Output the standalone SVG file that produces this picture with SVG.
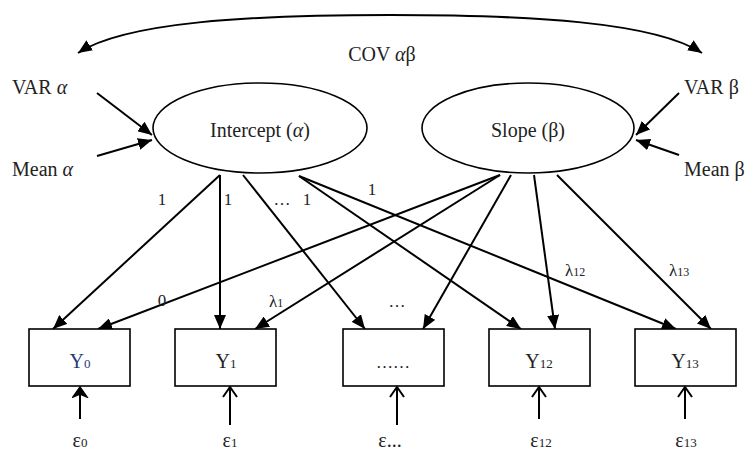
<svg xmlns="http://www.w3.org/2000/svg" width="748" height="450" viewBox="0 0 748 450">
<style>
text{font-family:"Liberation Serif","Times New Roman",serif;fill:#222}
.big{font-size:20px}
.lbl{font-size:17px}
.sub{font-size:13px}
.ssub{font-size:12px}
.it{font-style:italic}
.ln{stroke:#000;stroke-width:2;fill:none}
.shape{stroke:#000;stroke-width:1.6;fill:#fff}
</style>
<defs>
<marker id="ah" markerUnits="userSpaceOnUse" markerWidth="15" markerHeight="12" refX="14" refY="6" orient="auto-start-reverse">
<path d="M0,0 L14,6 L0,12 z" fill="#000"/>
</marker>
<marker id="va" markerUnits="userSpaceOnUse" markerWidth="14" markerHeight="18" refX="11" refY="8" orient="auto">
<path d="M1,1 L11,8 L1,15" fill="none" stroke="#000" stroke-width="2"/>
</marker>
<marker id="vf" markerUnits="userSpaceOnUse" markerWidth="14" markerHeight="18" refX="11" refY="8" orient="auto">
<path d="M1,1 L11,8 L1,15 L4,8 z" fill="#000" stroke="#000" stroke-width="1.5"/>
</marker>
</defs>

<g id="connectors">
<path class="ln" d="M78 53 C125 22, 250 15, 390 15 C530 15, 655 22, 702 53" marker-start="url(#ah)" marker-end="url(#ah)"/>
<path class="ln" d="M97 93 L152 135" marker-end="url(#ah)"/>
<path class="ln" d="M97 156 L152 140" marker-end="url(#ah)"/>
<path class="ln" d="M679 93 L636 135" marker-end="url(#ah)"/>
<path class="ln" d="M679 155 L636 140" marker-end="url(#ah)"/>
<path class="ln" d="M220 175 L53 329" marker-end="url(#ah)"/>
<path class="ln" d="M220 175 L220 329" marker-end="url(#ah)"/>
<path class="ln" d="M243 175 L365 329" marker-end="url(#ah)"/>
<path class="ln" d="M299 176 L521 329" marker-end="url(#ah)"/>
<path class="ln" d="M299 176 L676 329" marker-end="url(#ah)"/>
<path class="ln" d="M500 175 L98 329" marker-end="url(#ah)"/>
<path class="ln" d="M500 175 L255 329" marker-end="url(#ah)"/>
<path class="ln" d="M511 175 L423 329" marker-end="url(#ah)"/>
<path class="ln" d="M534 175 L555 329" marker-end="url(#ah)"/>
<path class="ln" d="M557 175 L711 329" marker-end="url(#ah)"/>
<path class="ln" d="M80 419 L80 387" marker-end="url(#vf)"/>
<path class="ln" d="M230 425 L230 387" marker-end="url(#va)"/>
<path class="ln" d="M397 425 L397 387" marker-end="url(#va)"/>
<path class="ln" d="M539 419 L539 387" marker-end="url(#va)"/>
<path class="ln" d="M685 419 L685 387" marker-end="url(#va)"/>
<text class="big" x="382" y="61" text-anchor="middle">COV <tspan class="it">α</tspan>β</text>
<text class="lbl" x="162" y="205" text-anchor="middle">1</text>
<text class="lbl" x="228" y="205" text-anchor="middle">1</text>
<text class="lbl" x="282" y="205" text-anchor="middle">…</text>
<text class="lbl" x="307" y="205" text-anchor="middle">1</text>
<text class="lbl" x="372" y="195" text-anchor="middle">1</text>
<text class="lbl" x="162" y="306" text-anchor="middle">0</text>
<text class="lbl" x="269" y="307">λ<tspan class="ssub">1</tspan></text>
<text class="lbl" x="397" y="307" text-anchor="middle">…</text>
<text class="lbl" x="565" y="276">λ<tspan class="ssub">12</tspan></text>
<text class="lbl" x="669" y="276">λ<tspan class="ssub">13</tspan></text>
</g>

<g id="var-alpha"><text class="big" x="12" y="94">VAR <tspan class="it">α</tspan></text></g>
<g id="mean-alpha"><text class="big" x="12" y="176">Mean <tspan class="it">α</tspan></text></g>
<g id="var-beta"><text class="big" x="684" y="94">VAR β</text></g>
<g id="mean-beta"><text class="big" x="684" y="176">Mean β</text></g>

<g id="intercept">
<ellipse class="shape" cx="260" cy="128" rx="107" ry="45"/>
<text class="big" x="260" y="137" text-anchor="middle">Intercept (<tspan class="it">α</tspan>)</text>
</g>
<g id="slope">
<ellipse class="shape" cx="528" cy="128" rx="106" ry="45"/>
<text class="big" x="528" y="137" text-anchor="middle">Slope (β)</text>
</g>

<g id="y0">
<rect class="shape" x="29" y="329" width="101" height="57"/>
<text class="big" x="80" y="368" text-anchor="middle" style="fill:#1f3d7a">Y<tspan class="sub" style="fill:#1f3d7a">0</tspan></text>
</g>
<g id="y1">
<rect class="shape" x="175" y="329" width="101" height="57"/>
<text class="big" x="226" y="368" text-anchor="middle">Y<tspan class="sub">1</tspan></text>
</g>
<g id="ydots">
<rect class="shape" x="343" y="329" width="101" height="57"/>
<text class="lbl" x="393" y="368" text-anchor="middle">……</text>
</g>
<g id="y12">
<rect class="shape" x="489" y="329" width="101" height="57"/>
<text class="big" x="539" y="368" text-anchor="middle">Y<tspan class="sub">12</tspan></text>
</g>
<g id="y13">
<rect class="shape" x="635" y="329" width="101" height="57"/>
<text class="big" x="685" y="368" text-anchor="middle">Y<tspan class="sub">13</tspan></text>
</g>

<g id="e0"><text class="big" x="80" y="447" text-anchor="middle">ε<tspan class="sub">0</tspan></text></g>
<g id="e1"><text class="big" x="230" y="447" text-anchor="middle">ε<tspan class="sub">1</tspan></text></g>
<g id="edots"><text class="big" x="390" y="447" text-anchor="middle">ε...</text></g>
<g id="e12"><text class="big" x="541" y="447" text-anchor="middle">ε<tspan class="sub">12</tspan></text></g>
<g id="e13"><text class="big" x="686" y="447" text-anchor="middle">ε<tspan class="sub">13</tspan></text></g>
</svg>
